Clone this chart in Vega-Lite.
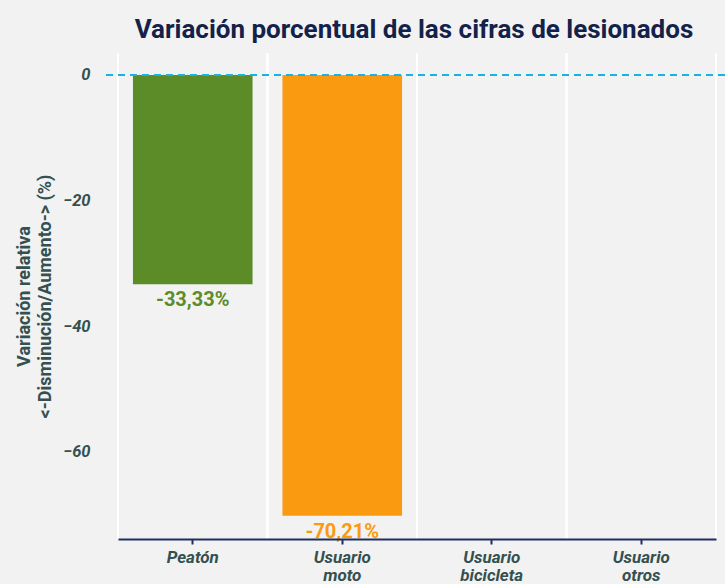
{
  "$schema": "https://vega.github.io/schema/vega-lite/v6.json",
  "width": 622,
  "height": 486,
  "autosize": {"type": "none"},
  "padding": {"left": 103, "top": 53, "right": 0, "bottom": 45},
  "background": "#f2f2f2",
  "config": {
    "view": {"stroke": null},
    "font": "Roboto"
  },
  "title": {
    "text": "Variación porcentual de las cifras de lesionados",
    "font": "Roboto",
    "fontSize": 26,
    "fontWeight": "bold",
    "color": "#14224a",
    "anchor": "middle",
    "offset": 9
  },
  "data": {
    "values": [
      {"cat": "Peatón", "value": -33.33, "label": "-33,33%"},
      {"cat": "Usuario moto", "value": -70.21, "label": "-70,21%"},
      {"cat": "Usuario bicicleta", "value": null, "label": ""},
      {"cat": "Usuario otros", "value": null, "label": ""}
    ]
  },
  "layer": [
    {
      "mark": {"type": "bar", "width": {"band": 0.8}},
      "encoding": {
        "x": {
          "field": "cat",
          "type": "nominal",
          "sort": null,
          "scale": {"range": [15, 613], "paddingInner": 0, "paddingOuter": 0},
          "axis": {
            "title": null,
            "zindex": 1,
            "bandPosition": 0.5,
            "labelAngle": 0,
            "labelExpr": "split(datum.label, ' ')",
            "labelFont": "Roboto",
            "labelFontSize": 17,
            "labelFontWeight": "bold",
            "labelFontStyle": "italic",
            "labelColor": "#34504f",
            "labelLineHeight": 18.5,
            "labelPadding": 5,
            "domainColor": "#1f2f5e",
            "domainWidth": 2,
            "tickColor": "#1f2f5e",
            "tickWidth": 2,
            "tickSize": 5,
            "grid": false
          }
        },
        "y": {
          "field": "value",
          "type": "quantitative",
          "scale": {"domain": [-73.9, 3.5], "nice": false, "zero": false},
          "axis": {
            "title": ["Variación relativa", "<-Disminución/Aumento-> (%)"],
            "titleFont": "Roboto",
            "titleFontSize": 18,
            "titleFontWeight": "bold",
            "titleColor": "#34504f",
            "titleLineHeight": 21,
            "titlePadding": 8,
            "values": [0, -20, -40, -60],
            "labelFont": "Roboto",
            "labelFontSize": 16.5,
            "labelFontWeight": "bold",
            "labelFontStyle": "italic",
            "labelColor": "#34504f",
            "labelPadding": 13,
            "domain": false,
            "ticks": false,
            "grid": false
          }
        },
        "y2": {"datum": 0},
        "color": {
          "field": "cat",
          "type": "nominal",
          "scale": {"domain": ["Peatón", "Usuario moto", "Usuario bicicleta", "Usuario otros"], "range": ["#5b8c27", "#f99a10", "#888888", "#888888"]},
          "legend": null
        }
      }
    },
    {
      "mark": {"type": "rule", "color": "#ffffff", "strokeWidth": 2},
      "encoding": {"x": {"field": "cat", "type": "nominal", "sort": null, "bandPosition": 0}}
    },
    {
      "mark": {"type": "rule", "color": "#ffffff", "strokeWidth": 2},
      "encoding": {"x": {"field": "cat", "type": "nominal", "sort": null, "bandPosition": 1}}
    },
    {
      "mark": {"type": "text", "baseline": "top", "dy": 6, "font": "Roboto", "fontSize": 20, "fontWeight": "bold"},
      "encoding": {
        "x": {"field": "cat", "type": "nominal", "sort": null},
        "y": {"field": "value", "type": "quantitative"},
        "text": {"field": "label"},
        "color": {"field": "cat", "type": "nominal", "legend": null}
      }
    },
    {
      "mark": {"type": "rule", "color": "#1ab2e0", "strokeWidth": 2, "strokeDash": [7, 5]},
      "encoding": {"y": {"datum": 0}}
    }
  ]
}
